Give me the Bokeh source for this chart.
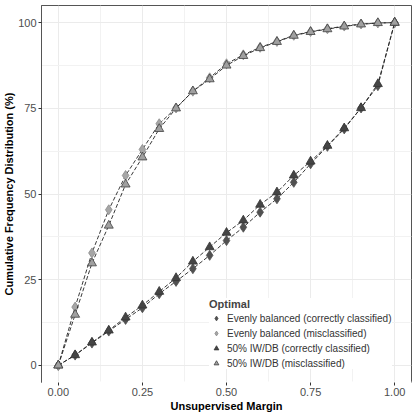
from bokeh.plotting import figure
from bokeh.models import (ColumnDataSource, FixedTicker, Legend,
                          LegendItem, Range1d, NumeralTickFormatter)
from bokeh.embed import file_html
from bokeh.resources import INLINE

# Unsupervised margin thresholds
margin = [0.00, 0.05, 0.10, 0.15, 0.20, 0.25, 0.30, 0.35, 0.40, 0.45, 0.50,
          0.55, 0.60, 0.65, 0.70, 0.75, 0.80, 0.85, 0.90, 0.95, 1.00]

# Cumulative frequency distribution (%)
even_correct = [0, 3.0, 6.5, 10.0, 13.4, 16.8, 20.9, 24.5, 28.2, 32.1, 36.4,
                40.3, 44.7, 48.6, 53.4, 58.8, 63.9, 69.0, 75.1, 81.6, 100]
even_miscl = [0, 17.0, 32.8, 45.4, 55.4, 63.0, 70.5, 75.1, 80.0, 83.9, 88.0,
              90.6, 92.8, 94.5, 96.3, 97.4, 98.2, 99.0, 99.6, 99.9, 100]
iwdb_correct = [0, 3.0, 6.7, 10.2, 14.0, 17.5, 21.5, 25.5, 30.3, 34.5, 38.7,
                42.3, 46.9, 50.5, 55.4, 59.5, 64.1, 69.2, 75.1, 82.1, 100]
iwdb_miscl = [0, 14.8, 29.8, 40.8, 52.8, 60.7, 69.0, 75.0, 80.0, 83.5, 87.5,
              90.3, 92.6, 94.4, 96.2, 97.3, 98.1, 98.9, 99.5, 99.9, 100]

labels = ["Evenly balanced (correctly classified)",
          "Evenly balanced (misclassified)",
          "50% IW/DB (correctly classified)",
          "50% IW/DB (misclassified)"]

FONT = "Liberation Sans"

p = figure(frame_width=370, frame_height=377, output_backend="svg",
           toolbar_location=None,
           x_range=Range1d(-0.05, 1.05), y_range=Range1d(-5, 105),
           min_border_left=41, min_border_right=4, min_border_top=5,
           min_border_bottom=31)
p.background_fill_color = "white"
p.border_fill_color = "white"
p.outline_line_color = "#555555"
p.outline_line_width = 1

# grid
for ax, major, minor in [(p.xaxis, [0, 0.25, 0.5, 0.75, 1.0],
                          [0.125, 0.375, 0.625, 0.875]),
                         (p.yaxis, [0, 25, 50, 75, 100],
                          [12.5, 37.5, 62.5, 87.5])]:
    ax.ticker = FixedTicker(ticks=major, minor_ticks=minor)
p.xgrid.grid_line_color = "#ebebeb"
p.ygrid.grid_line_color = "#ebebeb"
p.xgrid.minor_grid_line_color = "#f2f2f2"
p.ygrid.minor_grid_line_color = "#f2f2f2"

for ax in (p.xaxis, p.yaxis):
    ax.major_label_text_font = FONT
    ax.major_label_text_font_size = "11px"
    ax.major_label_text_color = "#4d4d4d"
    ax.axis_label_text_font = FONT
    ax.axis_label_text_font_size = "11px"
    ax.axis_label_text_font_style = "bold"
    ax.axis_label_text_color = "black"
    ax.major_tick_line_color = "#333333"
    ax.major_tick_in = 0
    ax.major_tick_out = 3
    ax.minor_tick_line_color = None

p.xaxis.formatter = NumeralTickFormatter(format="0.00")
# the bottom edge of the panel stays open
p.xaxis.axis_line_color = "white"
p.xaxis.axis_line_width = 2
p.xaxis.axis_label = "Unsupervised Margin"
p.xaxis.axis_label_standoff = 1
p.xaxis.major_label_standoff = 1
p.yaxis.axis_line_color = "#555555"
p.yaxis.axis_label = "Cumulative Frequency Distribution (%)"
p.yaxis.axis_label_standoff = 0
p.yaxis.major_label_standoff = 1

series = [
    (even_correct, "diamond", "#505050", "#505050", 10),
    (even_miscl, "diamond", "#a6a6a6", "#8a8a8a", 10),
    (iwdb_correct, "triangle", "#454545", "#333333", 9),
    (iwdb_miscl, "triangle", "#a0a0a0", "#404040", 9),
]

items = []
for (vals, marker, fill, edge, size), lab in zip(series, labels):
    src = ColumnDataSource(dict(x=margin, y=vals))
    p.line("x", "y", source=src, line_color="#222222", line_width=0.9,
           line_dash="4 2")
    sc = p.scatter("x", "y", source=src, marker=marker, size=size,
                   fill_color=fill, line_color=edge, line_width=0.8)
    items.append(LegendItem(label=lab, renderers=[sc]))

legend = Legend(items=items, location=(168, 13), title="Optimal",
                title_text_font=FONT, title_text_font_style="bold",
                title_text_font_size="11px", title_standoff=2,
                label_text_font=FONT, label_text_font_size="10px",
                label_text_color="#333333", label_height=12, glyph_height=12,
                glyph_width=14, label_standoff=4, spacing=3, padding=4,
                margin=0, border_line_color=None,
                background_fill_color="white", background_fill_alpha=1.0)
p.add_layout(legend, "center")

open("out.html", "w").write(file_html(p, INLINE))
